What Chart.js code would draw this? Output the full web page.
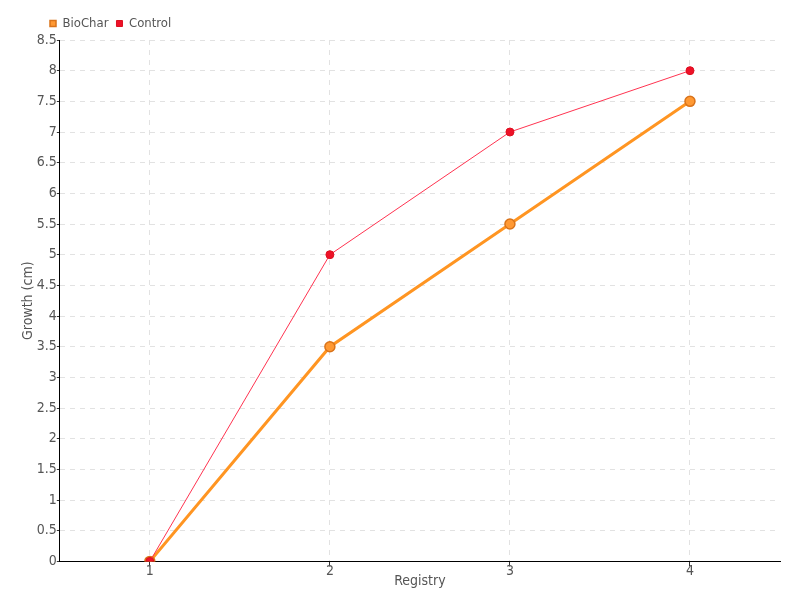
<!DOCTYPE html>
<html>
<head>
<meta charset="utf-8">
<script src="https://cdn.jsdelivr.net/npm/chart.js@4"></script>
<style>
	html, body { margin: 0; padding: 0; background: #fff; }
	#wrap { width: 800px; height: 600px; }
</style>
</head>
<body>
<div id="wrap"><canvas id="myChart" width="800" height="600"></canvas></div>
<script>
// данные
const registry = ["1", "2", "3", "4"];
const biochar = [0, 3.5, 5.5, 7.5];
const control = [0, 5, 7, 8];

const font = "'DejaVu Sans Condensed', 'Liberation Sans Narrow', sans-serif";
Chart.defaults.font.family = font;
Chart.defaults.font.size = 14;
Chart.defaults.color = "#555";

// сдвигаем легенду вправо, как на картинке
const legendShift = {
	id: "legendShift",
	afterLayout(chart) {
		if (chart.legend) {
			chart.legend.left += 22;
		}
	},
};

const ctx = document.getElementById("myChart");

new Chart(ctx, {
	type: "line",
	data: {
		labels: registry,
		datasets: [
			{
				label: "BioChar",
				data: biochar,
				borderColor: "#ff9522",
				backgroundColor: "#ff9522",
				borderWidth: 3,
				pointRadius: 5,
				pointBorderWidth: 1.5,
				pointBackgroundColor: "#ff9933",
				pointBorderColor: "#d9731a",
				tension: 0,
				order: 2,
			},
			{
				label: "Control",
				data: control,
				borderColor: "#ff3350",
				backgroundColor: "#ee1128",
				borderWidth: 1,
				pointRadius: 4,
				pointBorderWidth: 1,
				pointBackgroundColor: "#ee1128",
				pointBorderColor: "#dd1020",
				tension: 0,
				order: 1,
			},
		],
	},
	plugins: [legendShift],
	options: {
		responsive: false,
		animation: false,
		layout: {
			padding: { left: 20, right: 20, top: 9, bottom: 10 },
		},
		plugins: {
			legend: {
				position: "top",
				align: "start",
				labels: {
					usePointStyle: true,
					pointStyle: "rect",
					boxWidth: 6,
					boxHeight: 6,
					padding: 8,
					color: "#555",
					font: { size: 13 },
					sort: (a, b) => a.datasetIndex - b.datasetIndex,
				},
			},
			tooltip: { enabled: false },
		},
		scales: {
			x: {
				offset: true,
				grid: {
					color: "#e2e2e2",
					tickColor: "#333",
					tickLength: 5,
					offset: false,
				},
				border: { color: "#000", width: 1, dash: [5, 5] },
				ticks: { padding: -3, color: "#555" },
				title: {
					display: true,
					text: "Registry",
					color: "#555",
					padding: { top: -4, bottom: 0 },
				},
			},
			y: {
				min: 0,
				max: 8.5,
				grid: {
					color: "#e2e2e2",
					tickColor: "#333",
					tickLength: 3,
				},
				border: { color: "#000", width: 1, dash: [5, 5] },
				ticks: {
					stepSize: 0.5,
					padding: 0,
					color: "#555",
					callback: (v) => String(v),
				},
				title: {
					display: true,
					text: "Growth (cm)",
					color: "#555",
					padding: { top: 0, bottom: 0 },
				},
			},
		},
	},
});
</script>
</body>
</html>
